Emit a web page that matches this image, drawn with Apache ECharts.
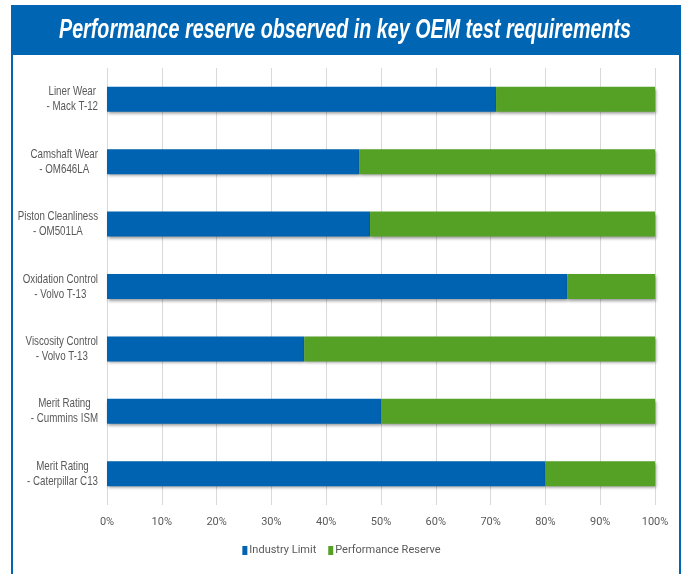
<!DOCTYPE html>
<html>
<head>
<meta charset="utf-8">
<script src="https://cdn.jsdelivr.net/npm/echarts@6/dist/echarts.min.js"></script>
<style>
html,body{margin:0;padding:0;background:#fff;}
#c{width:683px;height:574px;}
</style>
</head>
<body>
<div id="c"></div>
<script>
var categories = [
  ['Liner Wear', '- Mack T-12'],
  ['Camshaft Wear', '- OM646LA'],
  ['Piston Cleanliness', '- OM501LA'],
  ['Oxidation Control', '- Volvo T-13'],
  ['Viscosity Control', '- Volvo T-13'],
  ['Merit Rating', '- Cummins ISM'],
  ['Merit Rating', '- Caterpillar C13']
];
var industryLimit = [71, 46, 48, 84, 36, 50, 80];
var performanceReserve = [29, 54, 52, 16, 64, 50, 20];
var xTicks = [0, 10, 20, 30, 40, 50, 60, 70, 80, 90, 100];
var titleText = 'Performance reserve observed in key OEM test requirements';

var catKeys = categories.map(function(c, i){ return i + '|' + c.join('\n'); });
var shadow = {shadowBlur: 3, shadowOffsetY: 2, shadowOffsetX: 1, shadowColor: 'rgba(0,0,0,0.4)'};
var labelFont = '13px "Liberation Sans", Arial, sans-serif';
var titleFont = 'italic bold 27px "Liberation Sans", Arial, sans-serif';

var mctx = document.createElement('canvas').getContext('2d');
mctx.font = titleFont;
var titleScale = 572 / mctx.measureText(titleText).width;

var baseGraphic = [
  {type: 'rect', shape: {x: 11, y: 5, width: 670, height: 50}, style: {fill: '#0066b3'}},
  {type: 'rect', shape: {x: 11, y: 55, width: 2, height: 519}, style: {fill: '#0066b3'}},
  {type: 'rect', shape: {x: 679, y: 55, width: 2, height: 519}, style: {fill: '#0066b3'}},
  {type: 'text', x: 345, y: 31, scaleX: titleScale,
    style: {text: titleText, fill: '#ffffff', font: titleFont, align: 'center', verticalAlign: 'middle'}}
];

var chart = echarts.init(document.getElementById('c'));
chart.setOption({
  animation: false,
  graphic: baseGraphic,
  grid: {left: 107, right: 28, top: 68, bottom: 69, containLabel: false},
  legend: {
    bottom: 13, left: 'center', itemWidth: 5, itemHeight: 9, itemGap: 12,
    icon: 'rect',
    textStyle: {color: '#595959', fontSize: 11, fontFamily: 'Roboto', padding: [0, 0, 0, -3]},
    data: ['Industry Limit', 'Performance Reserve']
  },
  xAxis: {
    type: 'value', min: 0, max: 100, interval: 10,
    axisLine: {show: false}, axisTick: {show: false},
    splitLine: {lineStyle: {color: '#d9d9d9', width: 1}},
    axisLabel: {color: '#595959', fontSize: 11, fontFamily: 'Roboto', margin: 12,
      formatter: function(v){ return xTicks.indexOf(v) >= 0 ? v + '%' : ''; }}
  },
  yAxis: {
    type: 'category', inverse: true, data: catKeys,
    axisLine: {show: false}, axisTick: {show: false},
    axisLabel: {show: false}
  },
  series: [
    {name: 'Industry Limit', type: 'bar', stack: 'a', barWidth: '40%', data: industryLimit,
      itemStyle: Object.assign({color: '#0063b1'}, shadow)},
    {name: 'Performance Reserve', type: 'bar', stack: 'a', barWidth: '40%', data: performanceReserve,
      itemStyle: Object.assign({color: '#55a126'}, shadow)}
  ]
});

// Category labels (condensed), positioned through the category axis scale
var labelRight = chart.convertToPixel({xAxisIndex: 0}, 0) - 9;
var labelGraphics = categories.map(function(c, i){
  var cy = chart.convertToPixel({yAxisIndex: 0}, catKeys[i]);
  return {
    type: 'text', x: labelRight, y: cy, scaleX: 0.75,
    style: {
      text: c.map(function(s){ return '{a|' + s + '}'; }).join('\n'),
      align: 'right', verticalAlign: 'middle', font: labelFont, fill: '#595959',
      rich: {a: {align: 'center', font: labelFont, fill: '#595959', lineHeight: 15}}
    }
  };
});
chart.setOption({graphic: baseGraphic.concat(labelGraphics)});
</script>
</body>
</html>
